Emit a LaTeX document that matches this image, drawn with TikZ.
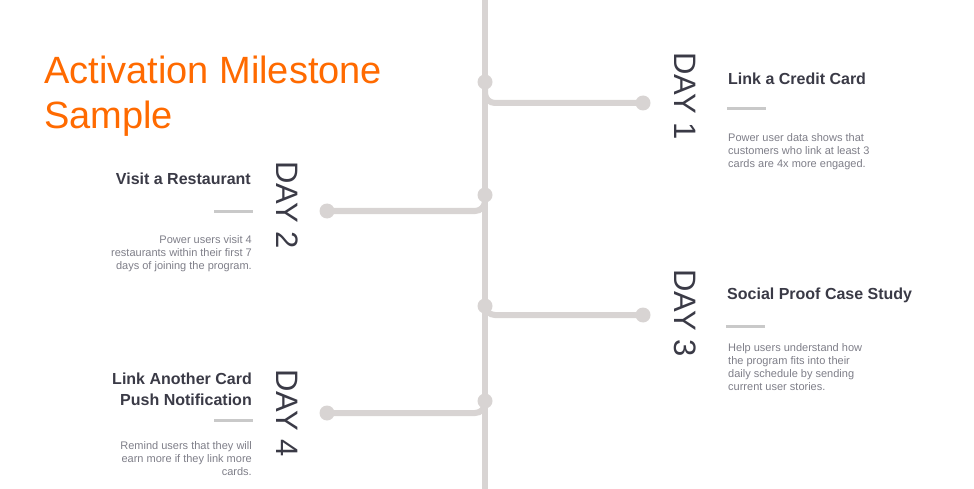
\documentclass[tikz,border=0pt]{standalone}
\usepackage{fontspec}
\setmainfont{Liberation Sans}
\usetikzlibrary{positioning}
\definecolor{railgrey}{HTML}{D8D4D3}
\definecolor{bargrey}{HTML}{C9C9C9}
\definecolor{inkdark}{HTML}{3A3A46}
\definecolor{inkgrey}{HTML}{7E7E88}
\definecolor{brandorange}{HTML}{FF6A00}
\begin{document}
\begin{tikzpicture}[
x=1pt, y=-1pt,
rail/.style={
  draw=railgrey,
  line width=6pt,
  line cap=round
  },
branch/.style={
  rail,
  rounded corners=10pt
  },
stop/.style={
  circle,
  fill=railgrey,
  minimum size=15pt,
  inner sep=0pt
  },
daylabel/.style={
  rotate=-90,
  inner sep=0pt,
  text=inkdark,
  font=\fontsize{31}{31}\selectfont
  },
heading/.style={
  inner sep=0pt,
  text=inkdark,
  font=\fontsize{16}{20.5}\selectfont\bfseries
  },
note/.style={
  inner sep=0pt,
  text=inkgrey,
  font=\fontsize{11}{13}\selectfont
  },
bar/.style={
  rectangle,
  fill=bargrey,
  minimum width=39pt,
  minimum height=3pt,
  inner sep=0pt
  }
]
\useasboundingbox (0,0) rectangle (974,489);

% title
\node[anchor=north west, inner sep=0pt, align=left, text=brandorange,
  font=\fontsize{38}{45}\selectfont] (title) at (44,56)
  {Activation Milestone\\Sample};

% main line
\coordinate (top) at (485,0);
\coordinate (bottom) at (485,489);
\draw[rail, line cap=butt] (top) -- (bottom);

% junctions and branch ends
\node[stop] (j1) at (485,82) {};
\node[stop] (j2) at (485,195) {};
\node[stop] (j3) at (485,306) {};
\node[stop] (j4) at (485,401) {};
\node[stop] (e1) at (643,103) {};
\node[stop] (e2) at (327,211) {};
\node[stop] (e3) at (643,315) {};
\node[stop] (e4) at (327,413) {};

\foreach \b in {1,...,4}
  \draw[branch] (j\b.center) |- (e\b.center);

% day labels
\node[daylabel] (day1) at (685,96) {DAY 1};
\node[daylabel] (day2) at (287,205) {DAY 2};
\node[daylabel] (day3) at (685,313) {DAY 3};
\node[daylabel] (day4) at (287,413) {DAY 4};

% right side
\node[heading, anchor=base west] (head1) at (728,85) {Link a Credit Card};
\node[bar, anchor=west] (bar1) at (727,109) {};
\node[note, anchor=north west, align=left] (note1) at (728,133)
  {Power user data shows that\\customers who link at least 3\\cards are 4x more engaged.};

\node[heading, anchor=base west] (head3) at (727,299) {Social Proof Case Study};
\node[bar, anchor=west] (bar3) at (726,326) {};
\node[note, anchor=north west, align=left] (note3) at (728,343)
  {Help users understand how\\the program fits into their\\daily schedule by sending\\current user stories.};

% left side
\node[heading, anchor=base east] (head2) at (251,185) {Visit a Restaurant};
\node[bar, anchor=east] (bar2) at (253,212) {};
\node[note, anchor=north east, align=right] (note2) at (252,235)
  {Power users visit 4\\restaurants within their first 7\\days of joining the program.};

\node[heading, anchor=north east, align=right] (head4) at (252,373)
  {Link Another Card\\Push Notification};
\node[bar, anchor=east] (bar4) at (253,420) {};
\node[note, anchor=north east, align=right] (note4) at (252,441)
  {Remind users that they will\\earn more if they link more\\cards.};

\end{tikzpicture}
\end{document}
